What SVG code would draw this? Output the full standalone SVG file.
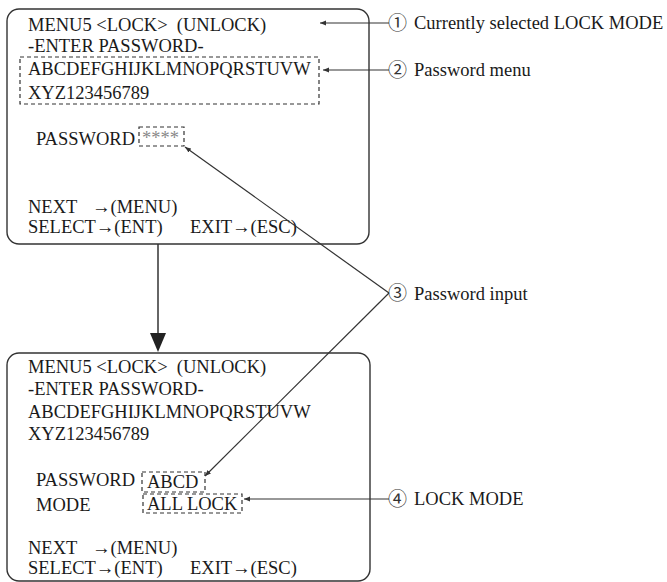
<svg xmlns="http://www.w3.org/2000/svg" width="667" height="582" viewBox="0 0 667 582">
<style>
text{font-family:"Liberation Serif","Times New Roman",serif;font-size:18.5px;fill:#1a1a1a;white-space:pre}
.num{font-family:"Noto Sans CJK JP","DejaVu Sans",sans-serif;font-size:19px;fill:#333}
.box{fill:none;stroke:#333;stroke-width:1.4}
.dash{fill:none;stroke:#333;stroke-width:1.2;stroke-dasharray:4 3}
.ln{fill:none;stroke:#333;stroke-width:1.2}
.ast{fill:#888}
</style>
<defs>
<marker id="ah" viewBox="0 0 10 10" refX="10" refY="5" markerWidth="6" markerHeight="6" markerUnits="userSpaceOnUse" orient="auto">
<path d="M0,1 L10,5 L0,9 Z" fill="#333"/>
</marker>
</defs>
<rect width="667" height="582" fill="#fff"/>
<g id="screen1">
<rect class="box" x="7" y="9" width="362" height="235" rx="12"/>
<text x="28" y="31" xml:space="preserve">MENU5 &lt;LOCK&gt;  (UNLOCK)</text>
<text x="28" y="52">-ENTER PASSWORD-</text>
<rect class="dash" x="20" y="57" width="299" height="47"/>
<text x="28" y="75">ABCDEFGHIJKLMNOPQRSTUVW</text>
<text x="28" y="99">XYZ123456789</text>
<text x="36" y="145">PASSWORD</text>
<rect class="dash" x="139" y="127" width="45" height="19"/>
<text class="ast" x="142" y="144">****</text>
<text x="28" y="213">NEXT</text>
<text x="92" y="213">→(MENU)</text>
<text x="28" y="233">SELECT→(ENT)</text>
<text x="190" y="233">EXIT→(ESC)</text>
</g>
<g id="screen2">
<rect class="box" x="7" y="353" width="363" height="228" rx="12"/>
<text x="28" y="373" xml:space="preserve">MENU5 &lt;LOCK&gt;  (UNLOCK)</text>
<text x="28" y="395">-ENTER PASSWORD-</text>
<text x="28" y="418">ABCDEFGHIJKLMNOPQRSTUVW</text>
<text x="28" y="440">XYZ123456789</text>
<text x="36" y="486">PASSWORD</text>
<rect class="dash" x="142" y="472" width="63" height="20"/>
<text x="147" y="488">ABCD</text>
<text x="36" y="511">MODE</text>
<rect class="dash" x="143" y="494" width="99" height="19"/>
<text x="147" y="510">ALL LOCK</text>
<text x="28" y="554">NEXT</text>
<text x="92" y="554">→(MENU)</text>
<text x="28" y="574">SELECT→(ENT)</text>
<text x="190" y="574">EXIT→(ESC)</text>
</g>
<g id="label1">
<text class="num" x="388" y="30">①</text>
<text x="414" y="29">Currently selected LOCK MODE</text>
</g>
<g id="label2">
<text class="num" x="388" y="77">②</text>
<text x="414" y="76">Password menu</text>
</g>
<g id="label3">
<text class="num" x="388" y="300">③</text>
<text x="414" y="300">Password input</text>
</g>
<g id="label4">
<text class="num" x="388" y="506">④</text>
<text x="414" y="505">LOCK MODE</text>
</g>
<g id="connectors">
<line class="ln" x1="389" y1="23" x2="320" y2="23" marker-end="url(#ah)"/>
<line class="ln" x1="389" y1="70" x2="323" y2="70" marker-end="url(#ah)"/>
<line class="ln" x1="389" y1="293" x2="185" y2="147" marker-end="url(#ah)"/>
<line class="ln" x1="389" y1="293" x2="205" y2="476" marker-end="url(#ah)"/>
<line class="ln" x1="389" y1="499" x2="244" y2="499" marker-end="url(#ah)"/>
<line class="ln" x1="158" y1="244" x2="158" y2="335" style="stroke-width:1.5"/>
<polygon points="150,333 166,333 158,352" fill="#222"/>
</g>
</svg>
